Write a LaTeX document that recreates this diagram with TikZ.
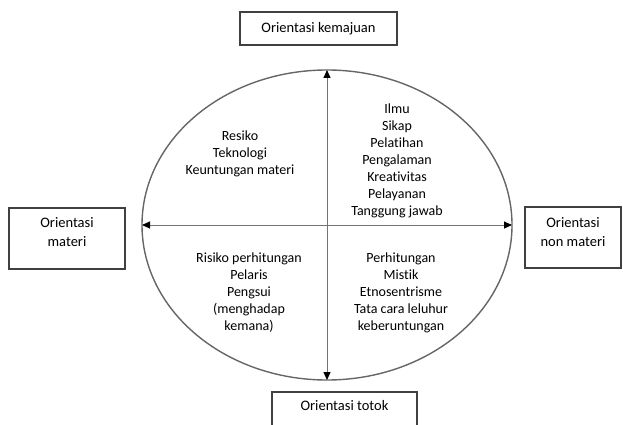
\documentclass[tikz,border=0pt]{standalone}
\usepackage{fontspec}
\setmainfont{Carlito}[Ligatures=NoCommon]
\usetikzlibrary{shapes.geometric, arrows.meta}

\begin{document}
\begin{tikzpicture}
  [x=1pt, y=-1pt,
   box/.style={shape=rectangle, draw=black!75, line width=1.2pt, inner sep=0pt},
   boxtext/.style={align=center, font=\fontsize{14.5}{19}\selectfont},
   items/.style={align=center, font=\fontsize{14}{17}\selectfont},
   oval/.style={shape=ellipse, draw=black!60, line width=1.4pt, minimum width=370pt, minimum height=310pt, inner sep=0pt, outer sep=0pt},
   axis/.style={{Triangle[length=8pt, width=7pt, color=black]}-{Triangle[length=8pt, width=7pt, color=black]}, draw=black!55, line width=1pt}]
  \useasboundingbox (0,0) rectangle (623,425);
  \node (field) [oval] at (327,225) {};
  \node (maju) [box, boxtext, minimum width=157pt, minimum height=33pt] at (318.5,28.5) {Orientasi kemajuan};
  \node (materi) [box, minimum width=116pt, minimum height=61pt,
    label={[boxtext, yshift=6pt]center:Orientasi\\materi}] at (67,238.5) {};
  \node (nonmateri) [box, minimum width=96pt, minimum height=61pt,
    label={[boxtext, yshift=5pt]center:Orientasi\\non materi}] at (573,237.5) {};
  \node (totok) [box, minimum width=145pt, minimum height=40pt,
    label={[boxtext, yshift=6pt]center:Orientasi totok}] at (344.5,412) {};
  \draw [axis] (field.south) to (field.north);
  \draw [axis] (field.west) to (field.east);
  % isi tiap kuadran
  \node (kiriatas) [items] at (240,154) {Resiko\\Teknologi\\Keuntungan materi};
  \node (kananatas) [items] at (397,160.5) {Ilmu\\Sikap\\Pelatihan\\Pengalaman\\Kreativitas\\Pelayanan\\Tanggung jawab};
  \node (kiribawah) [items] at (249,293) {Risiko perhitungan\\Pelaris\\Pengsui\\(menghadap\\kemana)};
  \node (kananbawah) [items] at (401,293) {Perhitungan\\Mistik\\Etnosentrisme\\Tata cara leluhur\\keberuntungan};
\end{tikzpicture}
\end{document}
